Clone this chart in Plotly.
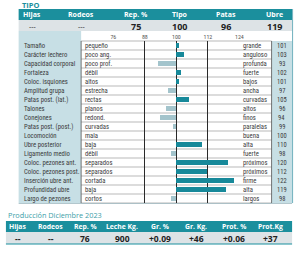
import plotly.graph_objects as go

# ---------------- data ----------------
top_headers = ["Hijas", "Rodeos", "Rep. %", "Tipo", "Patas", "Ubre"]
top_values = ["---", "---", "75", "100", "96", "119"]

traits = ["Tamaño", "Carácter lechero", "Capacidad corporal", "Fortaleza",
          "Coloc. isquiones", "Amplitud grupa", "Patas post. (lat.)", "Talones",
          "Conejones", "Patas post. (post.)", "Locomoción", "Ubre posterior",
          "Ligamento medio", "Coloc. pezones ant.", "Coloc. pezones post.",
          "Inserción ubre ant.", "Profundidad ubre", "Largo de pezones"]
low_desc = ["pequeño", "poco ang.", "poco prof.", "débil", "altos", "estrecha",
            "rectas", "planos", "redond.", "curvadas", "mala", "baja", "débil",
            "separados", "separados", "cortada", "baja", "cortos"]
high_desc = ["grande", "anguloso", "profunda", "fuerte", "bajos", "ancha",
             "curvadas", "altos", "finos", "paralelas", "buena", "alta", "fuerte",
             "próximos", "próximos", "firme", "alta", "largos"]
values = [101, 103, 93, 102, 101, 97, 105, 96, 94, 99, 100, 110, 98,
          120, 112, 122, 119, 98]
scale_ticks = [76, 88, 100, 112, 124]

prod_title = "Producción Diciembre 2023"
prod_headers = ["Hijas", "Rodeos", "Rep. %", "Leche Kg.", "Gr. %", "Gr. Kg.", "Prot. %", "Prot.Kg"]
prod_values = ["--", "--", "76", "900", "+0.09", "+46", "+0.06", "+37"]

# ---------------- style ----------------
TEAL = "#1b8f9d"
LBLUE = "#c7dfe5"
GRAY = "#dde3e6"
POS = "#17899a"
NEG = "#a3c4cc"
FONT = "Liberation Sans Narrow, Roboto Condensed, Arial Narrow, Liberation Sans, sans-serif"

W, H = 300, 253
grid_top, row_h = 41, 9.0
n = len(traits)
grid_bot = grid_top + n * row_h

fig = go.Figure()

colors = [POS if v > 100 else NEG for v in values]
fig.add_trace(go.Bar(
    y=traits, x=[v - 100 for v in values], base=100, orientation="h",
    marker=dict(color=colors, line=dict(width=0)), width=0.62,
    xaxis="x2", yaxis="y2", hoverinfo="skip", showlegend=False))

shapes = []
def rect(x0, y0, x1, y1, color):
    shapes.append(dict(type="rect", xref="x", yref="y", x0=x0, y0=y0, x1=x1, y1=y1,
                       fillcolor=color, line=dict(width=0), layer="below"))
def line(x0, y0, x1, y1, color, w=0.8):
    shapes.append(dict(type="line", xref="x", yref="y", x0=x0, y0=y0, x1=x1, y1=y1,
                       line=dict(color=color, width=w), layer="below"))

# top table
rect(16, 9, 296, 20, TEAL)
rect(16, 20, 296, 31, GRAY)
rect(16, 31, 80, grid_bot, LBLUE)
rect(275, grid_top, 296, grid_bot, LBLUE)
for i in range(n + 1):
    y = grid_top + i * row_h
    line(80, y, 275, y, "#8a8a8a", 0.6)
line(80, grid_top, 80, grid_bot, "#555", 0.8)
line(275, grid_top, 275, grid_bot, "#555", 0.8)
line(296.5, 9, 296.5, grid_bot, "#6fb0bd", 1)
line(16, grid_bot + 0.5, 296, grid_bot + 0.5, "#9fb9c0", 0.8)

# production table
rect(3, 221, 296, 232, TEAL)
rect(3, 232, 296, 244, GRAY)
line(3, 244, 296, 244, TEAL, 1.2)

ann = []
def text(x, y, s, size, color="#333", bold=False, anchor="center", family=FONT):
    ann.append(dict(x=x, y=y, xref="x", yref="y", text=f"<b>{s}</b>" if bold else s,
                    showarrow=False, xanchor=anchor, yanchor="middle",
                    font=dict(size=size, color=color, family=family)))

text(17, 4.5, "TIPO", 7.5, TEAL, True, "left", "Open Sans, sans-serif")
top_x = [30, 80, 136, 181, 228, 278]
for x, h, v in zip(top_x, top_headers, top_values):
    text(x, 14.8, h, 7, "white", True, "center", "Open Sans, sans-serif")
    text(x, 26, v, 9 if v[0].isdigit() else 7, "#222", v[0].isdigit(), "center",
         "Open Sans, sans-serif")

for i, (t, lo, hi, v) in enumerate(zip(traits, low_desc, high_desc, values)):
    yc = grid_top + (i + 0.5) * row_h
    text(19, yc, t, 6.7, "#3a3a3a", False, "left")
    text(82, yc, lo, 6.7, "#3a3a3a", False, "left")
    text(244, yc, hi, 6.7, "#3a3a3a", False, "left")
    text(285.5, yc, str(v), 6.5, "#3a3a3a", False, "center")

text(3, 215, prod_title, 7.3, "#3c9ea8", False, "left", "Open Sans, sans-serif")
prod_x = [15, 49, 84, 122, 161, 198, 237, 274]
for x, h, v in zip(prod_x, prod_headers, prod_values):
    text(x, 226.6, h, 6.8, "white", True, "center", "Open Sans, sans-serif")
    text(x, 238.2, v, 8.5, "#222", True, "center", "Open Sans, sans-serif")

fig.update_layout(
    width=W, height=H, margin=dict(l=0, r=0, t=0, b=0),
    paper_bgcolor="white", plot_bgcolor="rgba(0,0,0,0)",
    shapes=shapes, annotations=ann, bargap=0,
    xaxis=dict(range=[0, W], domain=[0, 1], visible=False, fixedrange=True),
    yaxis=dict(range=[H, 0], domain=[0, 1], visible=False, fixedrange=True),
    xaxis2=dict(range=[76, 124], domain=[113 / W, 242 / W], anchor="y2", side="top",
                tickvals=scale_ticks, ticktext=[str(t) for t in scale_ticks],
                showgrid=True, gridcolor="#2a2a2a", gridwidth=1, zeroline=False,
                showline=False, ticks="", tickfont=dict(size=6, color="#555", family=FONT)),
    yaxis2=dict(domain=[1 - grid_bot / H, 1 - grid_top / H], anchor="x2",
                type="category", categoryorder="array", categoryarray=traits,
                range=[n - 0.5, -0.5], showticklabels=False, showgrid=False,
                zeroline=False, showline=False, ticks=""),
)

fig.write_html("out.html")
